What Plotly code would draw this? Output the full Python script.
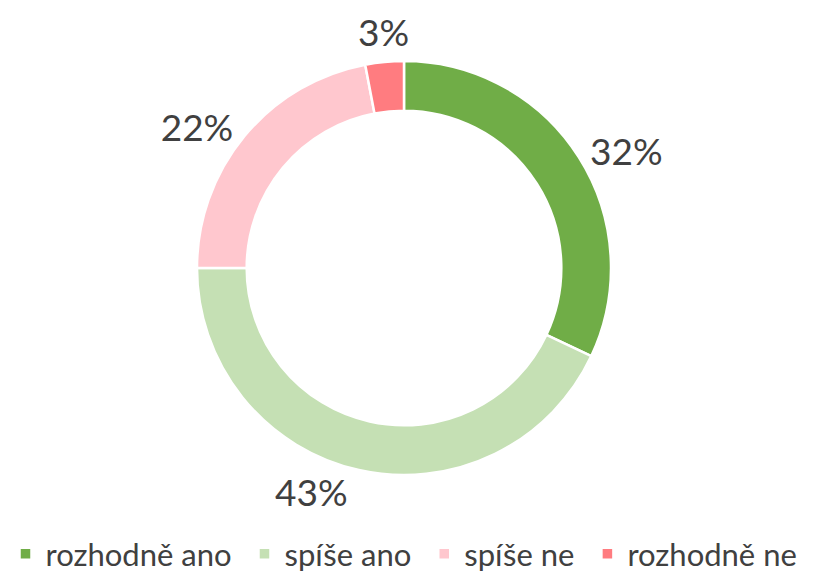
import math
import plotly.graph_objects as go

categories = ["rozhodně ano", "spíše ano", "spíše ne", "rozhodně ne"]
values = [32, 43, 22, 3]
colors = ["#70AD47", "#C5E0B4", "#FFC7CE", "#FF7C80"]

W, H = 816, 581
cx, cy, r = 404, 268, 207
label_font = dict(size=37, color="#404040", family="Lato")

# small slices get a centred label above them (computed from the data)
total = sum(values)
small = [v / total < 0.05 for v in values]
positions = ["none" if s else "outside" for s in small]

fig = go.Figure(go.Pie(
    labels=[c + "\u00a0" for c in categories],
    values=values,
    hole=0.76,
    sort=False,
    direction="clockwise",
    rotation=0,
    marker=dict(colors=colors, line=dict(color="white", width=2.5)),
    textinfo="percent",
    texttemplate="%{percent:.0%}",
    textposition=positions,
    automargin=False,
    outsidetextfont=label_font,
    domain=dict(x=[(cx - r) / W, (cx + r) / W], y=[1 - (cy + r) / H, 1 - (cy - r) / H]),
    showlegend=True,
))

cum = 0
for v, s in zip(values, small):
    mid = (cum + v / 2) / total * 2 * math.pi
    cum += v
    if not s:
        continue
    R = r + 6
    px = cx + R * math.sin(mid)
    py = cy - R * math.cos(mid)
    fig.add_annotation(
        x=px / W, y=1 - py / H, xref="paper", yref="paper",
        text=f"{round(v / total * 100)}%", showarrow=False,
        xanchor="center", yanchor="bottom", font=label_font,
    )

fig.update_layout(
    width=W, height=H,
    margin=dict(l=0, r=0, t=0, b=0),
    paper_bgcolor="white",
    plot_bgcolor="white",
    font=dict(family="Lato", color="#404040"),
    legend=dict(
        orientation="h",
        x=0.5, xanchor="center",
        y=0.0, yanchor="bottom",
        font=dict(size=31, color="#404040", family="Lato"),
        itemwidth=30,
        traceorder="normal",
    ),
)

fig.write_html("out.html", config={"displayModeBar": False},
               post_script="document.body.style.margin='0';")
